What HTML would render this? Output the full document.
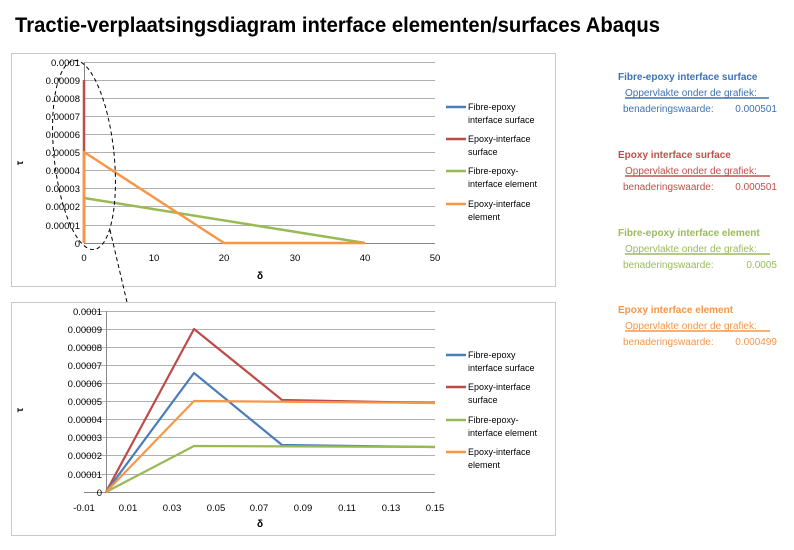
<!DOCTYPE html>
<html><head><meta charset="utf-8"><style>
html,body{margin:0;padding:0;background:#fff;}
svg{display:block;font-family:"Liberation Sans",sans-serif;}
</style></head><body>
<svg width="794" height="550" viewBox="0 0 794 550" xmlns="http://www.w3.org/2000/svg">
<text x="15" y="32" font-size="21" font-weight="bold" textLength="645" lengthAdjust="spacingAndGlyphs" fill="#000">Tractie-verplaatsingsdiagram interface elementen/surfaces Abaqus</text>

<!-- Top chart -->
<rect x="11.5" y="53.5" width="544" height="233" fill="#fff" stroke="#c8c8c8"/>
<g stroke="#b0b0b0" stroke-width="1">
<line x1="84" y1="62.5" x2="435" y2="62.5"/><line x1="84" y1="80.5" x2="435" y2="80.5"/><line x1="84" y1="98.5" x2="435" y2="98.5"/><line x1="84" y1="116.5" x2="435" y2="116.5"/><line x1="84" y1="134.5" x2="435" y2="134.5"/><line x1="84" y1="152.5" x2="435" y2="152.5"/><line x1="84" y1="170.5" x2="435" y2="170.5"/><line x1="84" y1="188.5" x2="435" y2="188.5"/><line x1="84" y1="206.5" x2="435" y2="206.5"/><line x1="84" y1="225.5" x2="435" y2="225.5"/>
</g>
<line x1="84" y1="243.5" x2="435" y2="243.5" stroke="#888"/>
<line x1="84.5" y1="62" x2="84.5" y2="243" stroke="#888"/>
<g font-size="9.5" fill="#000" text-anchor="end">
<text x="80" y="66">0.0001</text><text x="80" y="84">0.00009</text><text x="80" y="102">0.00008</text><text x="80" y="120">0.00007</text><text x="80" y="138">0.00006</text><text x="80" y="156">0.00005</text><text x="80" y="174">0.00004</text><text x="80" y="192">0.00003</text><text x="80" y="210">0.00002</text><text x="80" y="229">0.00001</text><text x="80" y="247">0</text>
</g>
<g font-size="9.5" fill="#000" text-anchor="middle">
<text x="84" y="261">0</text><text x="154" y="261">10</text><text x="224" y="261">20</text><text x="295" y="261">30</text><text x="365" y="261">40</text><text x="435" y="261">50</text>
<text x="260" y="279" font-weight="bold" font-size="10">δ</text>
</g>
<text x="0" y="0" font-size="10" font-weight="bold" transform="translate(23,163) rotate(-90)" text-anchor="middle">τ</text>
<g fill="none" stroke-width="2.5" stroke-linejoin="round">
<polyline points="84,243 84,80" stroke="#be4b48"/>
<polyline points="84,198 365,243" stroke="#98b954"/>
<polyline points="84,243 84,152 224,243 365,243" stroke="#f79646"/>
</g>
<g font-size="9" fill="#000">
<line x1="446" y1="107" x2="466" y2="107" stroke="#4a7ebb" stroke-width="2.5"/><text x="468" y="110">Fibre-epoxy</text><text x="468" y="123">interface surface</text>
<line x1="446" y1="139" x2="466" y2="139" stroke="#be4b48" stroke-width="2.5"/><text x="468" y="142">Epoxy-interface</text><text x="468" y="155">surface</text>
<line x1="446" y1="171" x2="466" y2="171" stroke="#98b954" stroke-width="2.5"/><text x="468" y="174">Fibre-epoxy-</text><text x="468" y="187">interface element</text>
<line x1="446" y1="204" x2="466" y2="204" stroke="#f79646" stroke-width="2.5"/><text x="468" y="207">Epoxy-interface</text><text x="468" y="220">element</text>
</g>
<ellipse cx="84" cy="155" rx="30" ry="95" fill="none" stroke="#000" stroke-dasharray="4,3" stroke-width="1" transform="rotate(-6 84 155)"/>
<line x1="110" y1="230" x2="134" y2="332" stroke="#000" stroke-dasharray="4,3"/>
<polyline points="128,326 134,333 137,324" fill="none" stroke="#000"/>

<!-- Bottom chart -->
<rect x="11.5" y="302.5" width="544" height="233" fill="#fff" stroke="#c8c8c8"/>
<g stroke="#b0b0b0" stroke-width="1">
<line x1="84" y1="311.5" x2="435" y2="311.5"/><line x1="84" y1="329.5" x2="435" y2="329.5"/><line x1="84" y1="347.5" x2="435" y2="347.5"/><line x1="84" y1="365.5" x2="435" y2="365.5"/><line x1="84" y1="383.5" x2="435" y2="383.5"/><line x1="84" y1="401.5" x2="435" y2="401.5"/><line x1="84" y1="419.5" x2="435" y2="419.5"/><line x1="84" y1="437.5" x2="435" y2="437.5"/><line x1="84" y1="455.5" x2="435" y2="455.5"/><line x1="84" y1="474.5" x2="435" y2="474.5"/>
</g>
<line x1="84" y1="492.5" x2="435" y2="492.5" stroke="#888"/>
<line x1="106.5" y1="311" x2="106.5" y2="492" stroke="#888"/>
<g font-size="9.5" fill="#000" text-anchor="end">
<text x="102" y="315">0.0001</text><text x="102" y="333">0.00009</text><text x="102" y="351">0.00008</text><text x="102" y="369">0.00007</text><text x="102" y="387">0.00006</text><text x="102" y="405">0.00005</text><text x="102" y="423">0.00004</text><text x="102" y="441">0.00003</text><text x="102" y="459">0.00002</text><text x="102" y="478">0.00001</text><text x="102" y="496">0</text>
</g>
<g font-size="9.5" fill="#000" text-anchor="middle">
<text x="84" y="511">-0.01</text><text x="128" y="511">0.01</text><text x="172" y="511">0.03</text><text x="216" y="511">0.05</text><text x="259" y="511">0.07</text><text x="303" y="511">0.09</text><text x="347" y="511">0.11</text><text x="391" y="511">0.13</text><text x="435" y="511">0.15</text>
<text x="260" y="527" font-weight="bold" font-size="10">δ</text>
</g>
<text x="0" y="0" font-size="10" font-weight="bold" transform="translate(23,410) rotate(-90)" text-anchor="middle">τ</text>
<g fill="none" stroke-width="2.2" stroke-linejoin="round">
<polyline points="106,492 194,329 282,400 435,403" stroke="#be4b48"/>
<polyline points="106,492 194,373 282,445 435,447" stroke="#4a7ebb"/>
<polyline points="106,492 194,446 435,447" stroke="#98b954"/>
<polyline points="106,492 194,401 435,403" stroke="#f79646"/>
</g>
<g font-size="9" fill="#000">
<line x1="446" y1="355" x2="466" y2="355" stroke="#4a7ebb" stroke-width="2.5"/><text x="468" y="358">Fibre-epoxy</text><text x="468" y="371">interface surface</text>
<line x1="446" y1="387" x2="466" y2="387" stroke="#be4b48" stroke-width="2.5"/><text x="468" y="390">Epoxy-interface</text><text x="468" y="403">surface</text>
<line x1="446" y1="420" x2="466" y2="420" stroke="#98b954" stroke-width="2.5"/><text x="468" y="423">Fibre-epoxy-</text><text x="468" y="436">interface element</text>
<line x1="446" y1="452" x2="466" y2="452" stroke="#f79646" stroke-width="2.5"/><text x="468" y="455">Epoxy-interface</text><text x="468" y="468">element</text>
</g>

<g font-size="10">
<g fill="#3d72b4">
<text x="618" y="80" font-weight="bold">Fibre-epoxy interface surface</text>
<text x="625" y="96">Oppervlakte onder de grafiek:</text>
<line x1="625" y1="98" x2="769" y2="98" stroke="#3d72b4" stroke-width="1.5"/>
<text x="623" y="112">benaderingswaarde:</text><text x="777" y="112" text-anchor="end">0.000501</text>
</g>
<g fill="#c0504d">
<text x="618" y="158" font-weight="bold">Epoxy interface surface</text>
<text x="625" y="174">Oppervlakte onder de grafiek:</text>
<line x1="625" y1="176" x2="770" y2="176" stroke="#c0504d" stroke-width="1.5"/>
<text x="623" y="190">benaderingswaarde:</text><text x="777" y="190" text-anchor="end">0.000501</text>
</g>
<g fill="#9bbb59">
<text x="618" y="236" font-weight="bold">Fibre-epoxy interface element</text>
<text x="625" y="252">Oppervlakte onder de grafiek:</text>
<line x1="625" y1="254" x2="770" y2="254" stroke="#9bbb59" stroke-width="1.5"/>
<text x="623" y="268">benaderingswaarde:</text><text x="777" y="268" text-anchor="end">0.0005</text>
</g>
<g fill="#f79646">
<text x="618" y="313" font-weight="bold">Epoxy interface element</text>
<text x="625" y="329">Oppervlakte onder de grafiek:</text>
<line x1="625" y1="331" x2="770" y2="331" stroke="#f79646" stroke-width="1.5"/>
<text x="623" y="345">benaderingswaarde:</text><text x="777" y="345" text-anchor="end">0.000499</text>
</g>
</g>
</svg>
</body></html>
